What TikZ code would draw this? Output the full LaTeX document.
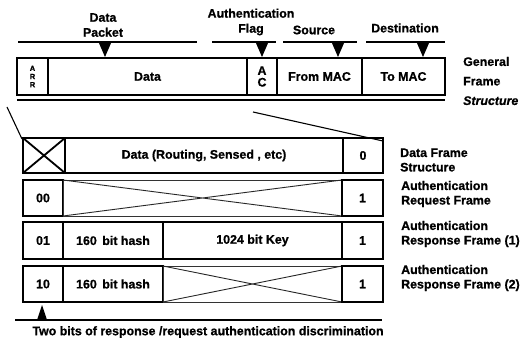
\documentclass[tikz,border=0pt]{standalone}
\usepackage{fontspec}
\setmainfont{Liberation Sans}[BoldFeatures={FakeBold=0.8},BoldItalicFeatures={FakeBold=0.8}]
\begin{document}
\begin{tikzpicture}[x=1pt,y=-1pt,
  cell/.style={draw=black, line width=2pt, rectangle, inner sep=0pt, outer sep=0pt,
    anchor=north west, font=\bfseries\fontsize{12.4}{14}\selectfont},
  voidcell/.style={draw=black!80, line width=0.9pt, rectangle, inner sep=0pt, outer sep=0pt,
    anchor=north west},
  cross/.style={black!85, line width=0.9pt},
  bar/.style={line width=2.4pt},
  lbl/.style={font=\bfseries\fontsize{12.4}{14.5}\selectfont, align=left, anchor=west, inner sep=0pt},
  toplbl/.style={font=\bfseries\fontsize{12.4}{15}\selectfont, align=center, inner sep=0pt},
  zoomline/.style={line width=1.1pt}
]
\useasboundingbox (0,0) rectangle (528,342);

% ---------- general frame ----------
\node[cell, minimum width=31pt, minimum height=37pt] (arr) at (17,58)
  {\fontsize{7.5}{9.5}\selectfont\shortstack{A\\R\\R}};
\node[cell, minimum width=199pt, minimum height=37pt] (data) at (48,58) {Data};
\node[cell, minimum width=30pt, minimum height=37pt] (ac) at (247,58)
  {\fontsize{12.4}{15}\selectfont\shortstack{A\\C}};
\node[cell, minimum width=85pt, minimum height=37pt] (from) at (277,58) {From MAC};
\node[cell, minimum width=83pt, minimum height=37pt] (to) at (362,58) {To MAC};
\draw[line width=1.1pt] (arr.south west) ++(0,5) -- ([yshift=-5pt]to.south east);

% field brackets with pointers
\draw[bar] (18,42) -- (197,42);
\draw[bar] (212,42) -- (276,42);
\draw[bar] (283,42) -- (357,42);
\draw[bar] (366,42) -- (445,42);
\foreach \t in {105,262,338,423}
  \fill (\t-6.5,42) -- (\t+6.5,42) -- (\t,57) -- cycle;

\node[toplbl] (lpacket) at (103,25) {Data\\Packet};
\node[toplbl] (lflag) at (251,22) {Authentication\\Flag};
\node[toplbl] (lsrc) at (314,30) {Source};
\node[toplbl] (ldst) at (405,28) {Destination};
\node[lbl, font=\bfseries\fontsize{12.4}{19.5}\selectfont] (lgen) at (463,81)
  {General\\Frame\\\textit{Structure}};

% ---------- data frame ----------
\node[cell, line width=1.4pt, minimum width=42pt, minimum height=35pt] (xb) at (23,138) {};
\draw[line width=1.8pt] (xb.north west) -- (xb.south east) (xb.south west) -- (xb.north east);
\node[cell, minimum width=278pt, minimum height=35pt] (dfdata) at (65,138) {Data (Routing, Sensed , etc)};
\node[cell, minimum width=40pt, minimum height=35pt] (df0) at (343,138) {0};

% ---------- authentication request frame ----------
\node[cell, minimum width=40pt, minimum height=36pt] (rq0) at (23,180) {00};
\node[voidcell, minimum width=279pt, minimum height=36pt] (rqx) at (63,180) {};
\draw[cross] (rqx.north west) -- (rqx.south east) (rqx.south west) -- (rqx.north east);
\node[cell, minimum width=41pt, minimum height=36pt] (rq1) at (342,180) {1};

% ---------- authentication response frame (1) ----------
\node[cell, minimum width=40pt, minimum height=37pt] (ra0) at (23,222) {01};
\node[cell, minimum width=100pt, minimum height=37pt] (rahash) at (63,222) {160\,\ bit hash};
\node[cell, minimum width=179pt, minimum height=37pt] (rakey) at (163,222) {1024\ bit Key};
\node[cell, minimum width=41pt, minimum height=37pt] (ra1) at (342,222) {1};

% ---------- authentication response frame (2) ----------
\node[cell, minimum width=40pt, minimum height=36pt] (rb0) at (23,266) {10};
\node[cell, minimum width=100pt, minimum height=36pt] (rbhash) at (63,266) {160\,\ bit hash};
\node[voidcell, minimum width=179pt, minimum height=36pt] (rbx) at (163,266) {};
\draw[cross] (rbx.north west) -- (rbx.south east) (rbx.south west) -- (rbx.north east);
\node[cell, minimum width=41pt, minimum height=36pt] (rb1) at (342,266) {1};

% ---------- row labels ----------
\node[lbl] (ldf) at (400,160) {Data Frame\\Structure};
\node[lbl] (lreq) at (401,194) {Authentication\\Request Frame};
\node[lbl] (lr1) at (401,234) {Authentication\\Response Frame\ (1)};
\node[lbl] (lr2) at (401,278) {Authentication\\Response Frame\ (2)};

% ---------- discrimination bits pointer ----------
\draw[bar] (15,320) -- (382,320);
\fill (37,320) -- (47,320) -- (42,305) -- cycle;
\node[toplbl] (lbits) at (208,332) {Two bits of response /request authentication discrimination};

% ---------- zoom guides ----------
\coordinate (zl) at (7,107);
\coordinate (zr) at (253,112);
\draw[zoomline] (zl) -- ([xshift=-1pt,yshift=-1pt]xb.north west);
\draw[zoomline] (zr) -- ([yshift=-3pt]df0.north east);
\end{tikzpicture}
\end{document}
